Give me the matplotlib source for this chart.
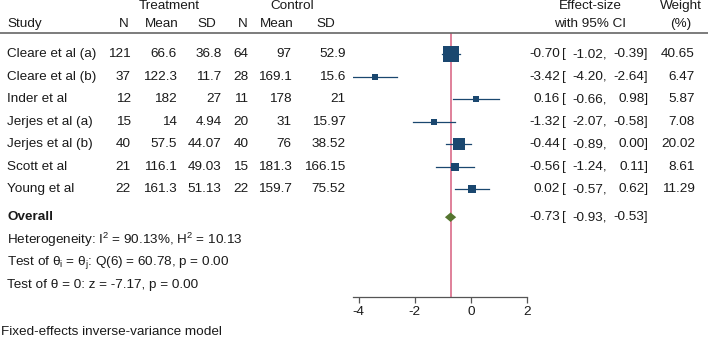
import matplotlib
matplotlib.use('Agg')
import matplotlib.pyplot as plt
import matplotlib.transforms as mtransforms
from matplotlib.lines import Line2D

plt.rcParams['font.family'] = ['Liberation Sans', 'DejaVu Sans']
plt.rcParams['mathtext.fontset'] = 'custom'
plt.rcParams['mathtext.rm'] = 'Liberation Sans'
plt.rcParams['mathtext.it'] = 'Liberation Sans:italic'
plt.rcParams['font.size'] = 9.7

# data
studies = ['Cleare et al (a)', 'Cleare et al (b)', 'Inder et al', 'Jerjes et al (a)',
           'Jerjes et al (b)', 'Scott et al', 'Young et al']
t_n = ['121', '37', '12', '15', '40', '21', '22']
t_mean = ['66.6', '122.3', '182', '14', '57.5', '116.1', '161.3']
t_sd = ['36.8', '11.7', '27', '4.94', '44.07', '49.03', '51.13']
c_n = ['64', '28', '11', '20', '40', '15', '22']
c_mean = ['97', '169.1', '178', '31', '76', '181.3', '159.7']
c_sd = ['52.9', '15.6', '21', '15.97', '38.52', '166.15', '75.52']
es = [-0.70, -3.42, 0.16, -1.32, -0.44, -0.56, 0.02]
ci_lo = [-1.02, -4.20, -0.66, -2.07, -0.89, -1.24, -0.57]
ci_hi = [-0.39, -2.64, 0.98, -0.58, 0.00, 0.11, 0.62]
weight = [40.65, 6.47, 5.87, 7.08, 20.02, 8.61, 11.29]

overall_es = -0.73
overall_lo = -0.93
overall_hi = -0.53

stats_lines = [r'Heterogeneity: I$^2$ = 90.13%, H$^2$ = 10.13',
               r'Test of θ$_\mathrm{i}$ = θ$_\mathrm{j}$: Q(6) = 60.78, p = 0.00',
               'Test of θ = 0: z = -7.17, p = 0.00']
note = 'Fixed-effects inverse-variance model'

xticks = [-4, -2, 0, 2]

W, H = 708, 338
navy = '#1a476f'
green = '#55752f'
refc = '#e0809a'
txt = '#1a1a1a'

fig = plt.figure(figsize=(W / 100, H / 100), dpi=100)
ax = fig.add_axes([353 / W, 1 - 296.7 / H, (527.3 - 353) / W, (296.7 - 33.3) / H])

row_top = -0.94
row_bot = 10.79
ax.set_xlim(-4.2, 2)
ax.set_ylim(row_bot, row_top)
for s in ['left', 'top', 'right']:
    ax.spines[s].set_visible(False)
ax.spines['bottom'].set_color('#555555')
ax.spines['bottom'].set_linewidth(0.9)
ax.set_yticks([])
ax.set_xticks(xticks)
ax.set_xticklabels([str(t) for t in xticks])
ax.tick_params(axis='x', length=4, width=0.9, color='#555555', pad=3, labelcolor=txt)

# reference line at overall effect
ax.axvline(overall_es, color=refc, lw=1.4, zorder=1)

# study markers
for i in range(len(studies)):
    ax.plot([ci_lo[i], ci_hi[i]], [i, i], color=navy, lw=0.9, zorder=2)
    side = 16 * (weight[i] / max(weight)) ** 0.5 * 0.72
    ax.plot(es[i], i, marker='s', ms=side, color=navy, mec=navy, mew=0, zorder=3)

# overall diamond
oy = 7.25
ax.fill([overall_lo, overall_es, overall_hi, overall_es],
        [oy, oy - 0.21, oy, oy + 0.21], color=green, lw=0, zorder=3)

tr = mtransforms.blended_transform_factory(fig.transFigure, ax.transData)

def px(x):
    return x / W

def put(x, y, s, ha='left', **kw):
    fig.text(px(x), y, s, ha=ha, va='center', transform=tr, color=txt, **kw)

# header
hy1, hy2 = -2.17, -1.35
put(7, hy2, 'Study')
put(169, hy1, 'Treatment', ha='center')
put(291.7, hy1, 'Control', ha='center')
for x, s in [(123.3, 'N'), (162, 'Mean'), (207, 'SD'), (242.5, 'N'), (277.2, 'Mean'), (325.7, 'SD')]:
    put(x, hy2, s, ha='center')
put(590.5, hy1, 'Effect-size', ha='center')
put(590.5, hy2, 'with 95% CI', ha='center')
put(680.7, hy1, 'Weight', ha='center')
put(680.7, hy2, '(%)', ha='center')

fig.add_artist(Line2D([0, 1], [-0.94, -0.94], transform=tr, color='#666666', lw=1.2))

# rows
cols = [(130.7, t_n), (176.7, t_mean), (221.7, t_sd), (248.3, c_n), (291.7, c_mean), (345.7, c_sd)]
for i, name in enumerate(studies):
    put(7, i, name)
    for x, vals in cols:
        put(x, i, vals[i], ha='right')
    put(560, i, f'{es[i]:.2f}', ha='right')
    put(562, i, '[')
    put(607.3, i, f'{ci_lo[i]:.2f},', ha='right')
    put(648.3, i, f'{ci_hi[i]:.2f}]', ha='right')
    put(695, i, f'{weight[i]:.2f}', ha='right')

put(7, oy, 'Overall', fontweight='bold')
put(560, oy, f'{overall_es:.2f}', ha='right')
put(562, oy, '[')
put(607.3, oy, f'{overall_lo:.2f},', ha='right')
put(648.3, oy, f'{overall_hi:.2f}]', ha='right')

for k, s in enumerate(stats_lines):
    put(7, 8.26 + k * 1.0, s)

fig.text(px(1), 1 - 331.7 / H, note, ha='left', va='center', color=txt)

fig.savefig('out.png', dpi=100)
